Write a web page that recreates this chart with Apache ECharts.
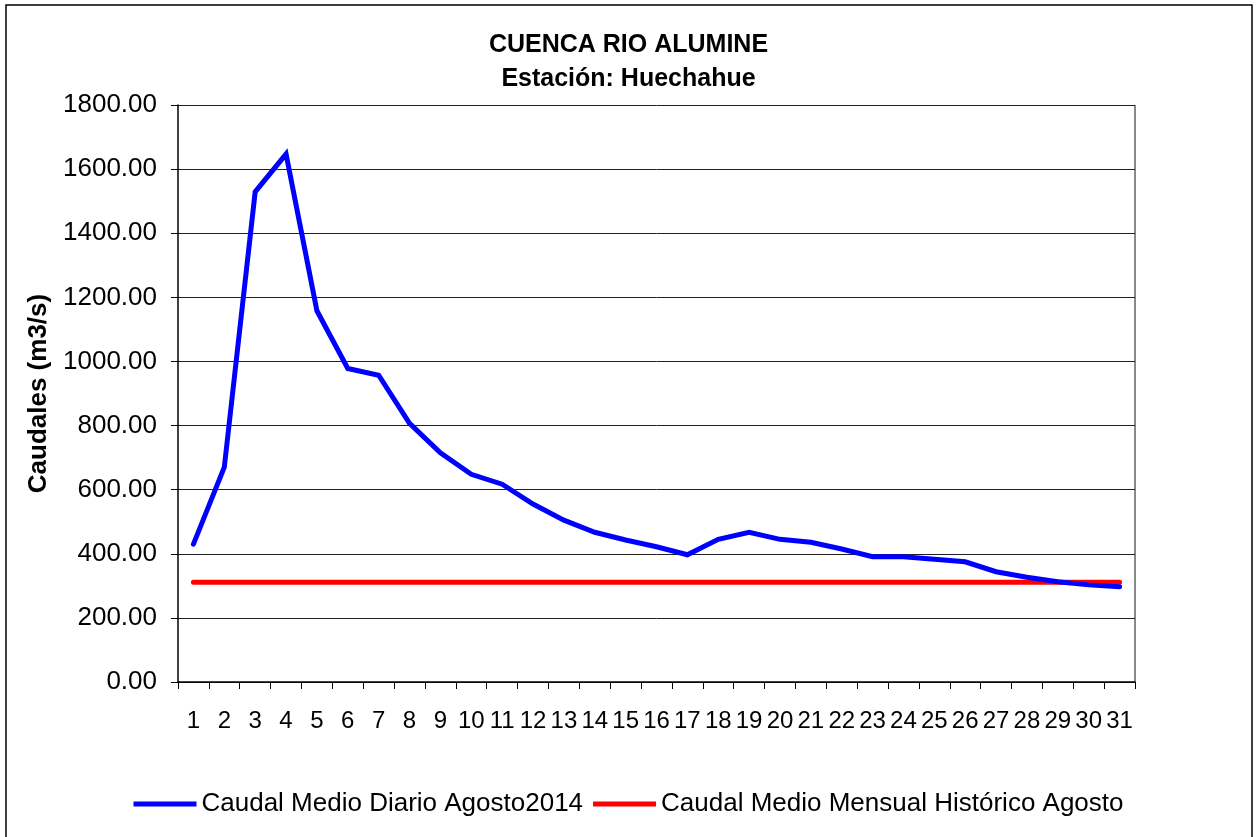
<!DOCTYPE html>
<html>
<head>
<meta charset="utf-8">
<script src="https://cdn.jsdelivr.net/npm/echarts@6/dist/echarts.min.js"></script>
<style>
  html, body { margin: 0; padding: 0; background: #fff; }
  #chart { width: 1257px; height: 837px; }
</style>
</head>
<body>
<div id="chart"></div>
<script>
// dias del mes
var dias = ['1','2','3','4','5','6','7','8','9','10','11','12','13','14','15','16',
            '17','18','19','20','21','22','23','24','25','26','27','28','29','30','31'];
// caudal medio diario agosto 2014 (m3/s)
var caudalDiario = [430, 670, 1529, 1647, 1158, 978, 957, 807, 715, 648, 617, 555, 505, 467, 443, 422,
                    397, 445, 467, 445, 436, 415, 391, 391, 383, 375, 344, 327, 313, 303, 297];
// caudal medio mensual historico agosto
var caudalHistorico = [311, 311, 311, 311, 311, 311, 311, 311, 311, 311, 311, 311, 311, 311, 311, 311,
                       311, 311, 311, 311, 311, 311, 311, 311, 311, 311, 311, 311, 311, 311, 311];

var fuente = 'Liberation Sans, Arial, sans-serif';

var myChart = echarts.init(document.getElementById('chart'));
var option = {
  backgroundColor: '#fff',
  animation: false,
  textStyle: { fontFamily: fuente, color: '#000' },
  title: {
    text: 'CUENCA RIO ALUMINE\nEstación: Huechahue',
    left: 'center',
    top: 23,
    textStyle: { fontFamily: fuente, fontSize: 25, fontWeight: 'bold', color: '#000', lineHeight: 34 }
  },
  legend: {
    top: 786,
    left: 'center',
    itemGap: 10,
    itemWidth: 63,
    itemHeight: 5,
    icon: 'rect',
    textStyle: { fontFamily: fuente, fontSize: 26, color: '#000' },
    data: ['Caudal Medio Diario Agosto2014', 'Caudal Medio Mensual Histórico Agosto']
  },
  grid: { left: 178, right: 122, top: 105, bottom: 155 },
  xAxis: {
    type: 'category',
    data: dias,
    boundaryGap: true,
    axisLine: { lineStyle: { color: '#000', width: 1.5 } },
    axisTick: { show: true, length: 7, lineStyle: { color: '#000' } },
    axisLabel: { fontFamily: fuente, fontSize: 24, color: '#000', margin: 27, interval: 0 },
    splitLine: { show: false }
  },
  yAxis: {
    type: 'value',
    min: 0,
    max: 1800,
    interval: 200,
    name: 'Caudales (m3/s)',
    nameLocation: 'middle',
    nameGap: 121,
    nameTextStyle: { fontFamily: fuente, fontSize: 26, fontWeight: 'bold', color: '#000' },
    axisLine: { show: true, lineStyle: { color: '#000', width: 1.5 } },
    axisTick: { show: true, length: 7, lineStyle: { color: '#000' } },
    axisLabel: {
      fontFamily: fuente, fontSize: 26, color: '#000', margin: 21,
      formatter: function (v) { return v.toFixed(2); }
    },
    splitLine: { show: true, lineStyle: { color: '#222', width: 1 } }
  },
  graphic: [
    {
      type: 'rect',
      shape: { x: 1135, y: 105, width: 0, height: 577 },
      style: { stroke: '#888', lineWidth: 2, fill: null },
      silent: true
    },
    {
      type: 'rect',
      shape: { x: 6, y: 5, width: 1246, height: 845 },
      style: { stroke: '#000', lineWidth: 1.5, fill: null },
      silent: true,
      z: -1
    }
  ],
  series: [
    {
      name: 'Caudal Medio Diario Agosto2014',
      type: 'line',
      data: caudalDiario,
      symbol: 'none',
      color: '#0000ff',
      lineStyle: { color: '#0000ff', width: 5, cap: 'round', join: 'miter' },
      z: 3
    },
    {
      name: 'Caudal Medio Mensual Histórico Agosto',
      type: 'line',
      data: caudalHistorico,
      symbol: 'none',
      color: '#ff0000',
      lineStyle: { color: '#ff0000', width: 5, cap: 'round' },
      z: 2
    }
  ]
};
myChart.setOption(option);
</script>
</body>
</html>
